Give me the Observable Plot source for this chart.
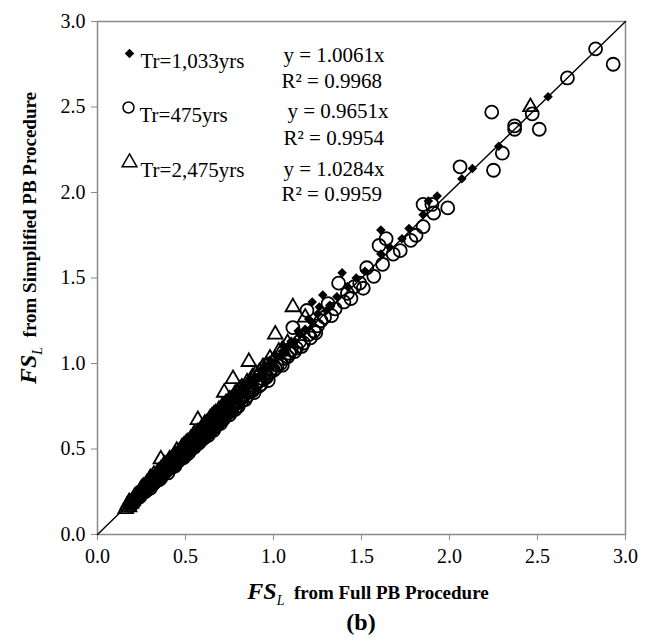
<!DOCTYPE html>
<html>
<head>
<meta charset="utf-8">
<script src="https://cdn.jsdelivr.net/npm/d3@7"></script>
<script src="https://cdn.jsdelivr.net/npm/@observablehq/plot@0.6"></script>
<style>
  html, body { margin: 0; padding: 0; background: #fff; }
  #chart { width: 645px; height: 644px; }
  #chart svg text { font-family: "Liberation Serif", "Times New Roman", serif; }
</style>
</head>
<body>
<div id="chart"></div>
<script>
// ---- Data ----
const tickValues = [0, 0.5, 1.0, 1.5, 2.0, 2.5, 3.0];
const seriesNames = ["Tr=1,033yrs", "Tr=475yrs", "Tr=2,475yrs"];
const equations = ["y = 1.0061x", "y = 0.9651x", "y = 1.0284x"];
const rSquared = ["R² = 0.9968", "R² = 0.9954", "R² = 0.9959"];

// Tr=1,033yrs (filled diamonds)
const diamondX = [0.17,0.20,0.23,0.25,0.28,0.30,0.32,0.34,0.36,0.38,0.40,0.42,0.43,0.45,0.47,0.48,0.50,0.52,0.53,0.55,0.57,0.58,0.60,0.62,0.63,0.65,0.67,0.68,0.70,0.72,0.74,0.76,0.78,0.80,0.82,0.85,0.88,0.90,0.93,0.96,0.99,1.02,1.05,1.08,1.12,1.15,1.18,1.22,1.22,1.28,1.25,1.32,1.39,1.47,1.36,1.42,1.52,1.61,1.61,1.66,1.73,1.77,1.85,1.88,1.93,2.07,2.13,2.28,2.56,
  0.19,0.22,0.24,0.27,0.29,0.31,0.33,0.35,0.37,0.39,0.41,0.44,0.46,0.49,0.51,0.54,0.56,0.59,0.61,0.64,0.66,0.69,0.71,0.73,0.75,0.77,0.79,0.81,0.84,0.87,0.91,0.95,0.98,1.01,1.06,1.10,1.14,1.20,1.26,1.30,
  0.18,0.21,0.26,0.30,0.34,0.38,0.42,0.45,0.48,0.51,0.53,0.56,0.58,0.61,0.63,0.66,0.68,0.70,0.73,0.76,0.79,0.83,0.86,0.89,0.93,0.97];
const diamondY = [0.16,0.20,0.23,0.26,0.28,0.31,0.32,0.35,0.36,0.38,0.41,0.42,0.44,0.45,0.48,0.49,0.50,0.53,0.54,0.55,0.58,0.59,0.60,0.63,0.64,0.65,0.68,0.69,0.70,0.73,0.75,0.76,0.79,0.81,0.82,0.86,0.89,0.92,0.94,0.97,1.00,1.04,1.07,1.10,1.13,1.17,1.20,1.24,1.36,1.40,1.29,1.34,1.53,1.50,1.39,1.45,1.54,1.78,1.64,1.68,1.73,1.79,1.87,1.95,1.98,2.08,2.14,2.27,2.56,
  0.19,0.21,0.25,0.27,0.30,0.30,0.34,0.35,0.38,0.39,0.43,0.44,0.47,0.50,0.52,0.56,0.56,0.61,0.62,0.66,0.66,0.71,0.72,0.75,0.77,0.78,0.81,0.84,0.85,0.90,0.92,0.98,1.02,1.05,1.10,1.13,1.19,1.26,1.33,1.31,
  0.18,0.22,0.26,0.29,0.33,0.39,0.41,0.46,0.48,0.50,0.55,0.57,0.58,0.60,0.65,0.67,0.67,0.72,0.74,0.78,0.80,0.84,0.88,0.91,0.96,0.99];

// Tr=475yrs (open circles)
const circleX = [0.19,0.22,0.25,0.27,0.29,0.31,0.33,0.34,0.36,0.37,0.38,0.40,0.41,0.42,0.44,0.45,0.46,0.47,0.48,0.49,0.50,0.51,0.52,0.53,0.54,0.55,0.56,0.57,0.58,0.59,0.60,0.61,0.62,0.63,0.64,0.65,0.66,0.67,0.68,0.69,0.70,0.71,0.72,0.74,0.75,0.76,0.78,0.79,0.80,0.82,0.83,0.85,0.86,0.88,0.90,0.92,0.94,0.96,0.98,1.00,1.02,1.04,1.06,1.08,1.10,1.13,1.15,1.17,1.20,1.23,1.25,1.27,1.19,1.11,1.29,1.31,1.35,1.37,1.42,1.46,1.49,1.53,1.57,1.60,1.62,1.64,1.68,1.72,1.78,1.81,1.85,1.85,1.90,1.91,1.99,2.06,2.24,2.25,2.30,2.37,2.37,2.47,2.51,2.67,2.83,2.93,
  0.21,0.23,0.26,0.28,0.30,0.32,0.35,0.36,0.39,0.40,0.43,0.44,0.46,0.47,0.49,0.51,0.52,0.54,0.55,0.57,0.58,0.60,0.61,0.63,0.64,0.66,0.67,0.69,0.70,0.72,0.73,0.75,0.77,0.78,0.80,0.81,0.84,0.87,0.89,0.91,0.93,0.95,0.97,1.01,1.05,1.09,1.12,1.16,1.21,1.24,1.33,1.40,1.44,1.51,
  0.20,0.24,0.27,0.30,0.33,0.35,0.37,0.39,0.41,0.43,0.45,0.47,0.48,0.50,0.52,0.53,0.55,0.56,0.58,0.59,0.61,0.62,0.64,0.65,0.67,0.68,0.70,0.71,0.73,0.74,0.76,0.79,0.82,0.85,0.88,0.92,0.96,0.99];
const circleY = [0.17,0.21,0.24,0.25,0.28,0.29,0.32,0.34,0.34,0.37,0.36,0.38,0.41,0.39,0.42,0.45,0.43,0.47,0.45,0.48,0.50,0.47,0.51,0.53,0.51,0.54,0.56,0.53,0.57,0.59,0.56,0.60,0.59,0.62,0.60,0.64,0.63,0.66,0.64,0.67,0.69,0.67,0.70,0.71,0.73,0.72,0.76,0.75,0.78,0.78,0.81,0.81,0.84,0.84,0.88,0.87,0.91,0.92,0.95,0.96,0.99,1.00,1.03,1.04,1.08,1.09,1.13,1.12,1.17,1.19,1.22,1.25,1.31,1.21,1.27,1.35,1.32,1.47,1.41,1.45,1.47,1.56,1.51,1.69,1.58,1.73,1.64,1.66,1.72,1.75,1.80,1.93,1.93,1.88,1.91,2.15,2.47,2.13,2.23,2.39,2.37,2.46,2.37,2.67,2.84,2.75,
  0.19,0.22,0.26,0.26,0.30,0.30,0.35,0.33,0.39,0.36,0.43,0.40,0.46,0.44,0.45,0.51,0.48,0.55,0.51,0.57,0.54,0.61,0.57,0.58,0.64,0.61,0.63,0.70,0.65,0.68,0.73,0.70,0.77,0.73,0.75,0.80,0.79,0.86,0.83,0.89,0.88,0.94,0.90,0.97,0.99,1.06,1.07,1.10,1.15,1.18,1.28,1.36,1.38,1.44,
  0.20,0.22,0.27,0.27,0.31,0.32,0.35,0.37,0.39,0.40,0.43,0.46,0.47,0.47,0.50,0.50,0.53,0.54,0.55,0.56,0.59,0.61,0.61,0.62,0.65,0.66,0.67,0.70,0.70,0.73,0.74,0.77,0.80,0.83,0.85,0.90,0.93,0.97];

// Tr=2,475yrs (open triangles)
const triangleX = [0.16,0.18,0.19,0.21,0.23,0.25,0.27,0.29,0.30,0.31,0.33,0.35,0.36,0.38,0.40,0.42,0.44,0.45,0.46,0.48,0.50,0.52,0.54,0.56,0.57,0.58,0.60,0.62,0.64,0.66,0.68,0.70,0.72,0.74,0.77,0.78,0.80,0.83,0.86,0.88,0.92,0.96,1.01,1.05,1.11,1.18,2.46,
  0.17,0.20,0.22,0.24,0.26,0.28,0.32,0.34,0.37,0.39,0.41,0.43,0.47,0.49,0.51,0.53,0.55,0.59,0.61,0.63,0.65,0.67,0.69,0.71,0.73,0.76,0.79,0.81,0.85,0.90,0.94,0.98,1.03,1.08,
  0.18,0.21,0.25,0.28,0.31,0.34,0.36,0.38,0.41,0.44,0.46,0.48,0.50,0.53,0.55,0.57,0.59,0.62,0.64,0.66,0.69,0.72,0.75,0.78,0.82,0.87];
const triangleY = [0.15,0.16,0.18,0.21,0.23,0.27,0.28,0.30,0.33,0.33,0.34,0.37,0.44,0.40,0.42,0.44,0.46,0.49,0.48,0.50,0.52,0.54,0.56,0.58,0.67,0.60,0.62,0.64,0.67,0.68,0.70,0.73,0.83,0.76,0.91,0.80,0.83,0.85,1.01,0.92,0.95,0.99,1.17,1.08,1.33,1.27,2.50,
  0.17,0.20,0.23,0.25,0.28,0.30,0.35,0.36,0.39,0.41,0.44,0.45,0.49,0.52,0.54,0.56,0.59,0.62,0.65,0.66,0.69,0.71,0.72,0.75,0.77,0.79,0.83,0.85,0.89,0.94,0.98,1.03,1.07,1.12,
  0.19,0.22,0.26,0.29,0.32,0.35,0.38,0.41,0.42,0.47,0.47,0.51,0.53,0.55,0.57,0.60,0.61,0.65,0.68,0.70,0.73,0.74,0.79,0.82,0.86,0.90];

// ---- Tables built from the arrays ----
const diamonds = diamondX.map((x, i) => ({x, y: diamondY[i]}));
const circles = circleX.map((x, i) => ({x, y: circleY[i]}));
const triangles = triangleX.map((x, i) => ({x, y: triangleY[i]}));
const diagonal = [{x: tickValues[0], y: tickValues[0]}, {x: tickValues[tickValues.length - 1], y: tickValues[tickValues.length - 1]}];

const serif = "'Liberation Serif', 'Times New Roman', serif";
const legendSymbols = [
  {symbol: "diamond2", fill: "black", stroke: "none", r: 4.3},
  {symbol: "circle", fill: "none", stroke: "black", r: 5.5},
  {symbol: "triangle", fill: "none", stroke: "black", r: 5.5}
];
const legendDx = [32, 31, 32];
const legendDy = [32, 86, 141];
const eqDx = [186, 190, 186];
const eqDy = [26, 82, 140];
const r2Dx = [184, 186, 184];
const r2Dy = [52, 109, 165];

const legendMarks = [];
seriesNames.forEach((name, i) => {
  const s = legendSymbols[i];
  legendMarks.push(Plot.dot([name], {frameAnchor: "top-left", dx: legendDx[i], dy: legendDy[i], symbol: s.symbol, fill: s.fill, stroke: s.stroke, strokeWidth: 1.5, r: s.r}));
  legendMarks.push(Plot.text([name], {text: d => d, frameAnchor: "top-left", textAnchor: "start", dx: legendDx[i] + 11, dy: legendDy[i], fontSize: 21, fontFamily: serif, fill: "black"}));
  legendMarks.push(Plot.text([equations[i]], {text: d => d, frameAnchor: "top-left", textAnchor: "start", dx: eqDx[i], dy: eqDy[i], fontSize: 21, fontFamily: serif, fill: "black"}));
  legendMarks.push(Plot.text([rSquared[i]], {text: d => d, frameAnchor: "top-left", textAnchor: "start", dx: r2Dx[i], dy: r2Dy[i], fontSize: 21, fontFamily: serif, fill: "black"}));
});

const plot = Plot.plot({
  width: 645,
  height: 644,
  marginLeft: 97,
  marginRight: 20,
  marginTop: 21,
  marginBottom: 110,
  style: {fontFamily: serif, fontSize: "20px", background: "white", color: "black"},
  x: {domain: [0, 3], label: null},
  y: {domain: [0, 3], label: null},
  marks: [
    Plot.frame({stroke: "#8a8a8a", strokeWidth: 1.5}),
    Plot.axisX({ticks: tickValues, tickFormat: d => d.toFixed(1), tickSize: 6, tickPadding: 8, stroke: "#8a8a8a", fill: "black", fontSize: 20, fontFamily: serif, label: null}),
    Plot.axisY({ticks: tickValues, tickFormat: d => d.toFixed(1), tickSize: 6, tickPadding: 6, stroke: "#8a8a8a", fill: "black", fontSize: 20, fontFamily: serif, label: null}),
    Plot.dot(circles, {x: "x", y: "y", symbol: "circle", r: 6.5, stroke: "black", strokeWidth: 1.8, fill: "none"}),
    Plot.dot(triangles, {x: "x", y: "y", symbol: "triangle", r: 5.4, stroke: "black", strokeWidth: 1.8, fill: "none"}),
    Plot.dot(diamonds, {x: "x", y: "y", symbol: "diamond2", r: 4.3, fill: "black", stroke: "none"}),
    Plot.line(diagonal, {x: "x", y: "y", stroke: "black", strokeWidth: 1.4}),
    ...legendMarks
  ]
});

document.getElementById("chart").appendChild(plot);

// Axis titles and panel label (text with sub-scripts)
const svg = d3.select(plot);
const yTitle = svg.append("text")
  .attr("transform", "translate(36,238) rotate(-90)")
  .attr("text-anchor", "middle")
  .attr("fill", "black")
  .style("font-family", serif);
yTitle.append("tspan").attr("font-size", 24).attr("font-weight", "bold").attr("font-style", "italic").text("FS");
yTitle.append("tspan").attr("font-size", 14).attr("font-style", "italic").attr("dy", 6).text("L");
yTitle.append("tspan").attr("font-size", 19).attr("font-weight", "bold").attr("dy", -6).text("  from Simplified PB Procedure");

const xTitle = svg.append("text")
  .attr("transform", "translate(368,599)")
  .attr("text-anchor", "middle")
  .attr("fill", "black")
  .style("font-family", serif);
xTitle.append("tspan").attr("font-size", 24).attr("font-weight", "bold").attr("font-style", "italic").text("FS");
xTitle.append("tspan").attr("font-size", 14).attr("font-style", "italic").attr("dy", 6).text("L");
xTitle.append("tspan").attr("font-size", 19).attr("font-weight", "bold").attr("dy", -6).text("  from Full PB Procedure");

svg.append("text")
  .attr("x", 361).attr("y", 630)
  .attr("text-anchor", "middle")
  .attr("fill", "black")
  .attr("font-size", 24).attr("font-weight", "bold")
  .style("font-family", serif)
  .text("(b)");
</script>
</body>
</html>
